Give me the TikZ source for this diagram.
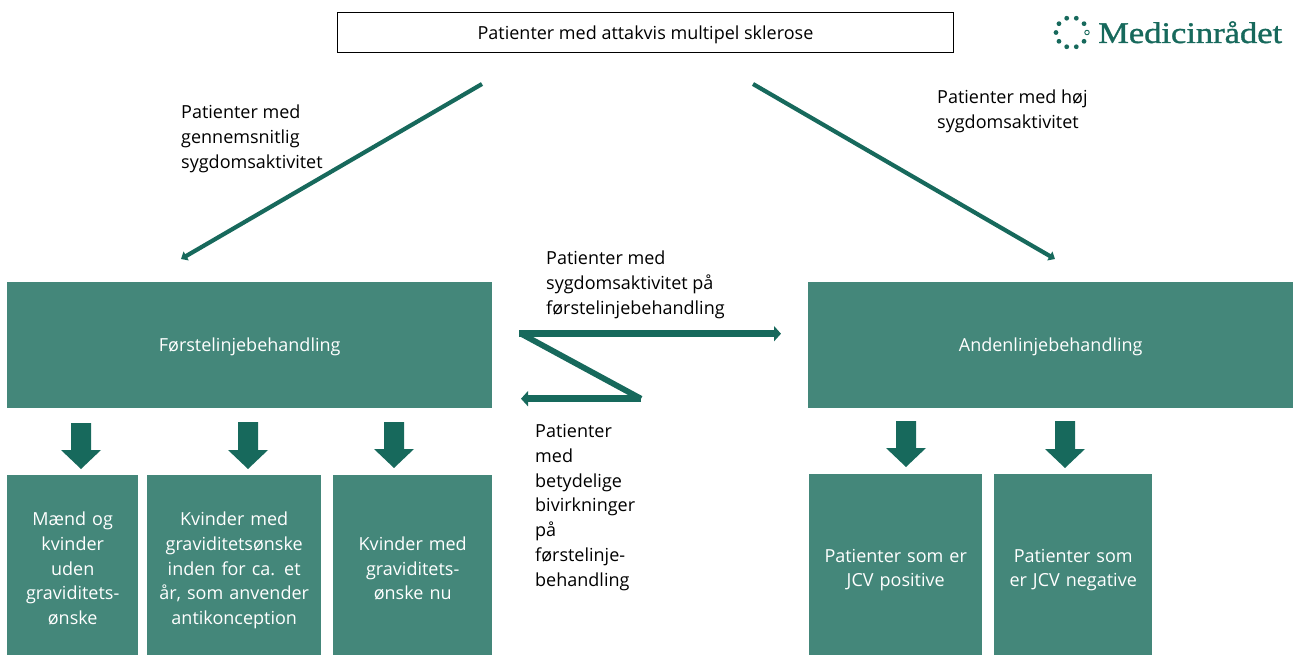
\documentclass[tikz,border=0pt]{standalone}
\usepackage{fontspec}
\setmainfont{Open Sans}
\newfontfamily\logofont[FakeStretch=1.15,FakeBold=1.2]{Liberation Serif}
\usetikzlibrary{arrows.meta}
\definecolor{boxgreen}{HTML}{44877A}
\definecolor{darkgreen}{HTML}{17695C}
\newcommand{\blockarrow}[3]{\fill[darkgreen] (#1-10,#2) -- (#1+10,#2) -- (#1+10,#3-19) -- (#1+20,#3-19) -- (#1,#3) -- (#1-20,#3-19) -- (#1-10,#3-19) -- cycle;}
\tikzset{
  x=1pt,y=-1pt,
  txt/.style={font=\fontsize{18}{24.8}\selectfont},
  basebox/.style={txt,fill=boxgreen,text=white,align=center,anchor=north west,inner sep=2pt},
  mainbox/.style={basebox,minimum width=485pt,minimum height=126pt,execute at begin node={\rule{0pt}{20pt}},execute at end node={\rule[-6.4pt]{0pt}{6.4pt}}},
  leafbox/.style={basebox,execute at begin node={\rule{0pt}{25pt}},execute at end node={\rule[-5.4pt]{0pt}{5.4pt}}},
  note/.style={txt,text=black,align=left,anchor=north west,inner sep=0pt},
  thin arrow/.style={draw=darkgreen,line width=4.2pt,-{Triangle[length=6pt,width=10pt]}},
  thick arrow/.style={draw=darkgreen,line width=6.5pt,-{Triangle[length=7pt,width=15pt]}},
  zig/.style={draw=darkgreen,line width=5.8pt},
  dot/.style={circle,fill=darkgreen,inner sep=0pt,minimum size=4.8pt},
}
\begin{document}
\begin{tikzpicture}
\useasboundingbox (0,0) rectangle (1294,655);
% top box
\node[txt,draw=black,line width=1pt,fill=white,anchor=north west,minimum width=616pt,minimum height=40pt,inner sep=0pt,execute at begin node={\rule{0pt}{18pt}}] (top) at (337,12) {Patienter med attakvis multipel sklerose};
% logo
\foreach \a in {36,72,...,324}{
  \node[dot] (logo\a) at ({1071.5+15.5*cos(\a)},{32.5+15*sin(\a)}) {};
}
\node[circle,draw=darkgreen,line width=0.9pt,inner sep=0pt,minimum size=4.5pt] (logoring) at (1087,32.5) {};
\node[anchor=base west,inner sep=0pt,text=darkgreen,font=\logofont\fontsize{30}{30}\selectfont] (logotext) at (1098,43) {Medicinrådet};
% main boxes
\node[mainbox] (first) at (7,282) {Førstelinjebehandling};
\node[mainbox] (second) at (808,282) {Andenlinjebehandling};
% leaf boxes
\node[leafbox,minimum width=131pt,minimum height=180pt,text width=127pt] (l1) at (7,475) {Mænd og\\kvinder\\uden\\graviditets-\\ønske};
\node[leafbox,minimum width=174pt,minimum height=180pt,text width=170pt] (l2) at (147,475) {Kvinder med\\graviditetsønske\\inden for ca. et\\år, som anvender\\antikonception};
\node[leafbox,minimum width=159pt,minimum height=180pt,text width=155pt] (l3) at (333,475) {Kvinder med\\graviditets-\\ønske nu};
\node[leafbox,minimum width=173pt,minimum height=181pt,text width=169pt] (r1) at (809,474) {Patienter som er\\JCV positive};
\node[leafbox,minimum width=158pt,minimum height=181pt,text width=154pt] (r2) at (994,474) {Patienter som\\er JCV negative};
% block arrows
\blockarrow{81}{423}{469}
\blockarrow{248}{422}{469}
\blockarrow{394}{422}{468}
\blockarrow{906}{421}{467}
\blockarrow{1065}{421}{468}
% notes
\node[note] (n1) at (181,105) {Patienter med\\gennemsnitlig\\sygdomsaktivitet};
\node[note] (n2) at (937,90) {Patienter med høj\\sygdomsaktivitet};
\node[note] (n3) at (546,251) {Patienter med\\sygdomsaktivitet på\\førstelinjebehandling};
\node[note] (n4) at (535,424) {Patienter\\med\\betydelige\\bivirkninger\\på\\førstelinje-\\behandling};
% connectors
\coordinate (a1) at (482,84); \coordinate (a2) at (181,259);
\coordinate (b1) at (753,84); \coordinate (b2) at (1055,259);
\coordinate (z0) at (781,333.7); \coordinate (z1) at (519,333.7);
\coordinate (z2) at (641,398.7); \coordinate (z3) at (521,398.7);
\coordinate (z1b) at (521,333.7);
\draw[thin arrow] (a1) -- (a2);
\draw[thin arrow] (b1) -- (b2);
\draw[thick arrow] (z1) -- (z0);
\draw[zig] (z1b) -- (z2);
\draw[thick arrow] (z2) -- (z3);
\end{tikzpicture}
\end{document}
